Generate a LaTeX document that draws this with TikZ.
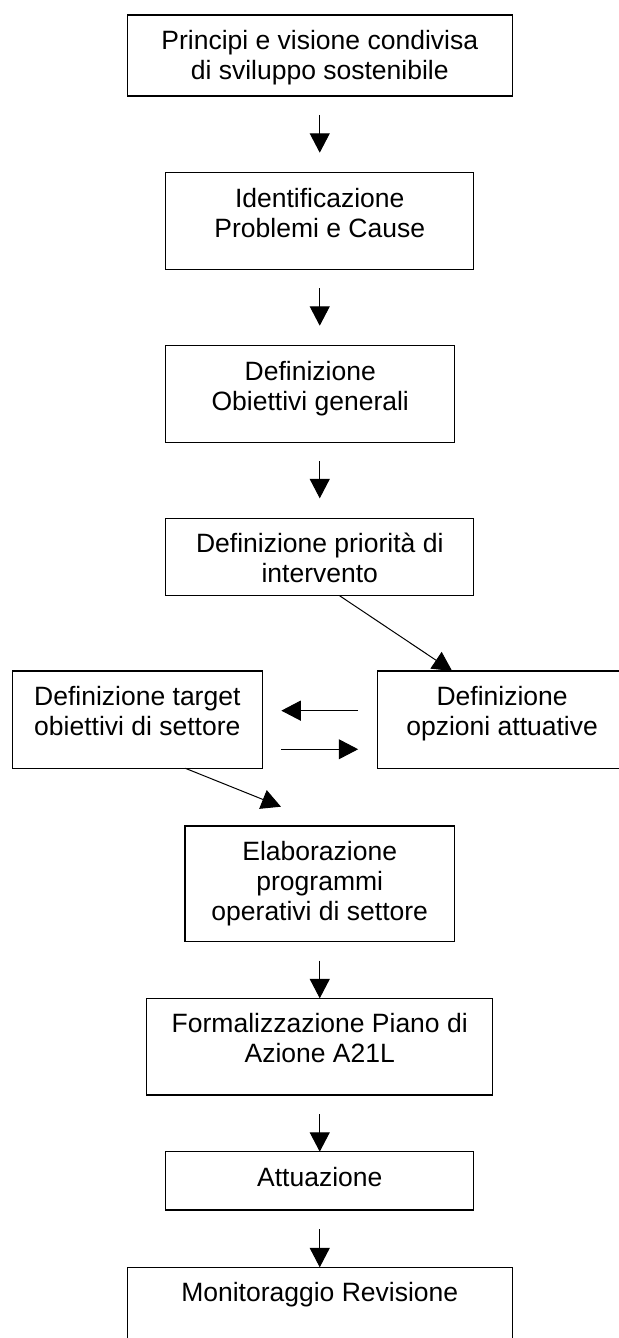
\documentclass[tikz,border=0pt]{standalone}
\usepackage{fontspec}
\setmainfont{Liberation Sans}
\usetikzlibrary{positioning,arrows.meta}

\newcommand{\fase}[3]{\parbox[c][#2][t]{#1}{\centering\rule{0pt}{17.3pt}#3}}

\tikzset{
  stepbox/.style={draw, line width=.6pt, inner sep=0pt, outer sep=0pt, font=\fontsize{13.25pt}{15pt}\selectfont},
  flow/.style={-{Triangle[length=9.7pt,width=10pt]}, line width=.5pt, shorten <=9.5pt},
  gap/.style={shorten >=10pt},
}

\begin{document}
\begin{tikzpicture}
  \useasboundingbox (-159.875pt,27.75pt) rectangle (149.625pt,-641.25pt);
  \clip (-159.875pt,27.75pt) rectangle (149.625pt,-641.25pt);

  \node[stepbox] (principi) {\fase{192.5pt}{40.5pt}{Principi e visione condivisa\\di sviluppo sostenibile}};
  \node[stepbox, below=38.35pt of principi] (problemi) {\fase{154pt}{48.3pt}{Identificazione\\Problemi e Cause}};
  \node[stepbox, below=38.2pt of problemi, xshift=-4.75pt] (obiettivi) {\fase{144.5pt}{48.3pt}{Definizione\\Obiettivi generali}};
  \node[stepbox, below=38pt of obiettivi, xshift=4.75pt] (priorita) {\fase{154pt}{38.7pt}{Definizione priorità di\\intervento}};
  \node[stepbox, below=37.65pt of priorita, xshift=-91.2pt] (target) {\fase{125pt}{48.65pt}{Definizione target\\obiettivi di settore}};
  \node[stepbox, below=37.65pt of priorita, xshift=91.2pt] (opzioni) {\fase{125pt}{48.65pt}{Definizione\\opzioni attuative}};
  \node[stepbox, below=115.15pt of priorita] (programmi) {\fase{134.65pt}{57.85pt}{Elaborazione\\programmi\\operativi di settore}};
  \node[stepbox, below=28.3pt of programmi] (piano) {\fase{173.1pt}{48.35pt}{Formalizzazione Piano di\\Azione A21L}};
  \node[stepbox, below=28.35pt of piano] (attuazione) {\fase{154pt}{29.15pt}{Attuazione}};
  \node[stepbox, below=28.65pt of attuazione] (monitoraggio) {\fase{192.5pt}{50pt}{Monitoraggio Revisione}};

  \draw[flow, gap] (principi) -- (problemi);
  \draw[flow, gap] (problemi.south) -- (problemi.south |- obiettivi.north);
  \draw[flow, gap] (priorita.north |- obiettivi.south) -- (priorita.north);
  \draw[flow, shorten <=0pt] ([xshift=9.9pt]priorita.south) -- ([xshift=37.5pt]opzioni.north west);
  \draw[flow, shorten >=9.5pt] ([yshift=4.5pt]opzioni.west) -- ([yshift=4.5pt]target.east);
  \draw[flow, shorten >=9.5pt] ([yshift=-14.8pt]target.east) -- ([yshift=-14.8pt]opzioni.west);
  \draw[flow, shorten <=0pt] ([xshift=24pt]target.south) -- ([xshift=-19.4pt,yshift=9.65pt]programmi.north);
  \draw[flow] (programmi) -- (piano);
  \draw[flow] (piano) -- (attuazione);
  \draw[flow] (attuazione) -- (monitoraggio);
\end{tikzpicture}
\end{document}
